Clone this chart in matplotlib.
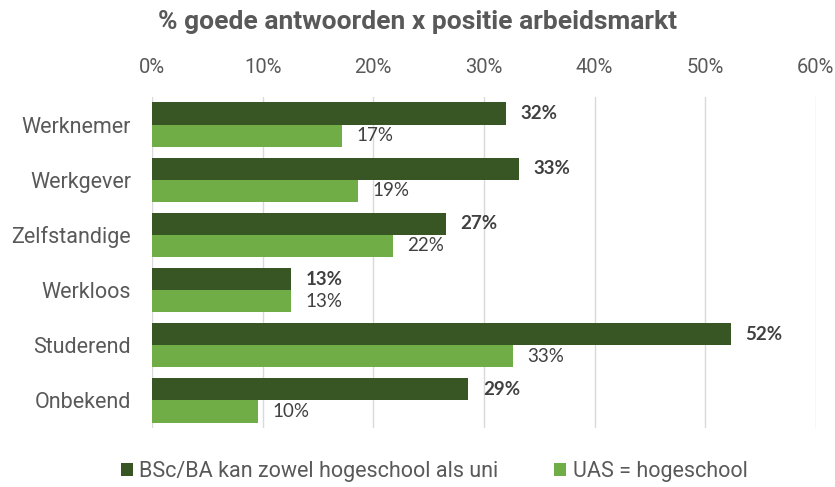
import matplotlib.pyplot as plt
import numpy as np

categories = ["Werknemer", "Werkgever", "Zelfstandige", "Werkloos", "Studerend", "Onbekend"]
bsc_ba = [32.0, 33.2, 26.6, 12.6, 52.3, 28.6]
uas = [17.2, 18.6, 21.8, 12.6, 32.6, 9.6]
series_names = ["BSc/BA kan zowel hogeschool als uni", "UAS = hogeschool"]
xticks = [0, 10, 20, 30, 40, 50, 60]

dark = "#375623"
light = "#70AD47"
grey = "#595959"

plt.rcParams['font.family'] = ['Roboto', 'DejaVu Sans']

fig = plt.figure(figsize=(8.35, 4.87), dpi=100)
ax = fig.add_axes([0.182, 0.121, 0.795, 0.68])

y = np.arange(len(categories))
h = 0.4
b1 = ax.barh(y - h / 2, bsc_ba, height=h, color=dark, label=series_names[0], zorder=3)
b2 = ax.barh(y + h / 2, uas, height=h, color=light, label=series_names[1], zorder=3)

for rect, v in zip(b1, bsc_ba):
    ax.text(rect.get_width() + 1.3, rect.get_y() + rect.get_height() / 2, f"{v:.0f}%",
            va="center", ha="left", fontsize=13.5, fontweight="bold", color="#404040",
            family=['Lato', 'DejaVu Sans'])
for rect, v in zip(b2, uas):
    ax.text(rect.get_width() + 1.3, rect.get_y() + rect.get_height() / 2, f"{v:.0f}%",
            va="center", ha="left", fontsize=13.5, color="#404040",
            family=['Lato', 'DejaVu Sans'])

ax.set_xlim(0, 60)
ax.set_ylim(len(categories) - 0.5, -0.5)
ax.set_xticks(xticks)
ax.set_xticklabels([f"{t}%" for t in xticks])
ax.set_yticks(y)
ax.set_yticklabels(categories)
ax.xaxis.tick_top()
ax.tick_params(axis="both", length=0, colors=grey)
ax.tick_params(axis="x", pad=14, labelsize=14.5)
ax.tick_params(axis="y", pad=15, labelsize=15.5)
ax.grid(axis="x", color="#D9D9D9", linewidth=1, zorder=0)
for s in ax.spines.values():
    s.set_visible(False)

fig.suptitle("% goede antwoorden x positie arbeidsmarkt", x=0.5, y=0.98,
             fontsize=19, fontweight="bold", color=grey)

leg = fig.legend(loc="lower center", bbox_to_anchor=(0.52, -0.03), ncol=2, frameon=False,
                 fontsize=15.5, handlelength=0.55, handleheight=0.55, columnspacing=2.6,
                 handletextpad=0.3)
for t in leg.get_texts():
    t.set_color(grey)

fig.savefig("out.png", dpi=100)
